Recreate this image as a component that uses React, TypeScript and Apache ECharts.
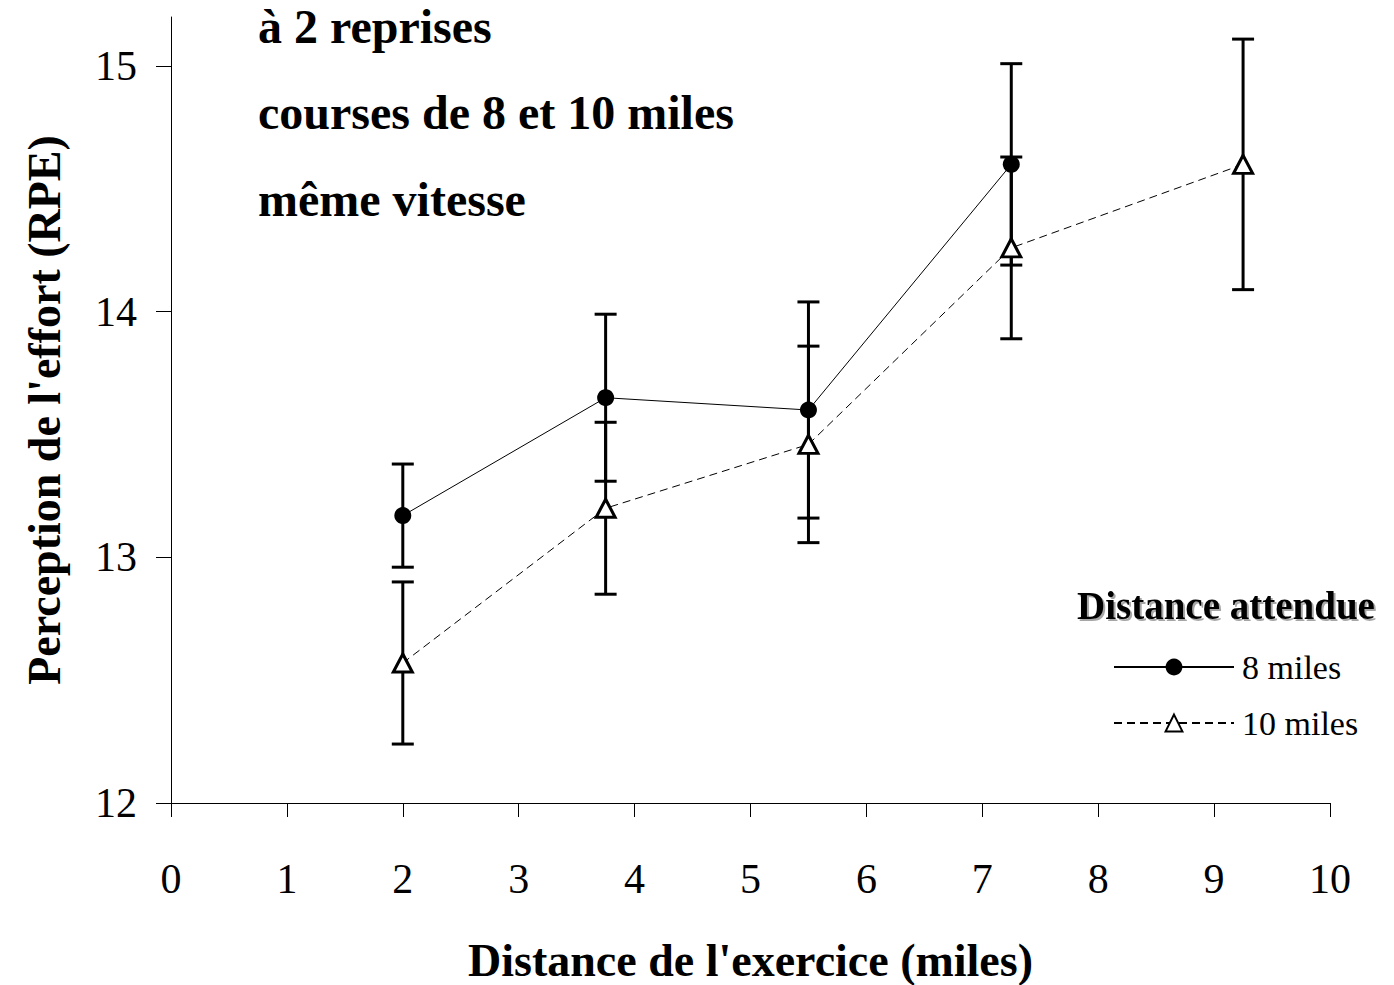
import React, { useEffect, useRef } from "react";
import * as echarts from "echarts";

const FONT = "'Liberation Serif', 'Times New Roman', serif";

const distances8 = [2, 3.75, 5.5, 7.25];
const rpe8 = [13.17, 13.65, 13.6, 14.6];
const sd8 = [0.21, 0.34, 0.44, 0.41];

const distances10 = [2, 3.75, 5.5, 7.25, 9.25];
const rpe10 = [12.57, 13.2, 13.46, 14.26, 14.6];
const sd10 = [0.33, 0.35, 0.4, 0.37, 0.51];

const yTicks = [12, 13, 14, 15];
const annotations = ["à 2 reprises", "courses de 8 et 10 miles", "même vitesse"];
const seriesNames = ["8 miles", "10 miles"];
const legendTitle = "Distance attendue";
const xTitle = "Distance de l'exercice (miles)";
const yTitle = "Perception de l'effort (RPE)";

function errorRender(params: any, api: any) {
  const x = api.value(0);
  const y = api.value(1);
  const e = api.value(2);
  const top = api.coord([x, y + e]);
  const bot = api.coord([x, y - e]);
  const hw = 11;
  const style = { stroke: "#000", lineWidth: 3 };
  return {
    type: "group",
    children: [
      { type: "line", shape: { x1: top[0], y1: top[1], x2: bot[0], y2: bot[1] }, style },
      { type: "line", shape: { x1: top[0] - hw, y1: top[1], x2: top[0] + hw, y2: top[1] }, style },
      { type: "line", shape: { x1: bot[0] - hw, y1: bot[1], x2: bot[0] + hw, y2: bot[1] }, style },
    ],
  };
}

export default function App() {
  const ref = useRef<HTMLDivElement>(null);
  useEffect(() => {
    if (!ref.current) return;
    const chart = echarts.init(ref.current, null, { renderer: "svg" });
    const d8 = distances8.map((x, i) => [x, rpe8[i]]);
    const d10 = distances10.map((x, i) => [x, rpe10[i]]);
    const e8 = distances8.map((x, i) => [x, rpe8[i], sd8[i]]);
    const e10 = distances10.map((x, i) => [x, rpe10[i], sd10[i]]);
    chart.setOption({
      animation: false,
      backgroundColor: "#fff",
      grid: { left: 171, right: 64, top: 17, bottom: 182, containLabel: false, outerBoundsMode: "none" },
      xAxis: {
        type: "value",
        min: 0,
        max: 10,
        interval: 1,
        name: xTitle,
        nameLocation: "middle",
        nameGap: 134,
        nameTextStyle: { fontFamily: FONT, fontSize: 46, fontWeight: "bold", color: "#000" },
        axisLine: { lineStyle: { color: "#000", width: 1 } },
        axisTick: { show: true, length: 14, lineStyle: { color: "#000", width: 1 } },
        axisLabel: { fontFamily: FONT, fontSize: 42, color: "#000", margin: 55 },
        splitLine: { show: false },
      },
      yAxis: {
        type: "value",
        min: 12,
        max: 15.2,
        interval: 1,
        name: yTitle,
        nameLocation: "middle",
        nameRotate: 90,
        nameGap: 104,
        nameTextStyle: { fontFamily: FONT, fontSize: 46, fontWeight: "bold", color: "#000" },
        axisLine: { show: true, lineStyle: { color: "#000", width: 1 } },
        axisTick: { show: true, length: 15, customValues: yTicks, lineStyle: { color: "#000", width: 1 } },
        axisLabel: { fontFamily: FONT, fontSize: 42, color: "#000", margin: 34, customValues: yTicks },
        splitLine: { show: false },
      },
      legend: {
        orient: "vertical",
        left: 1108,
        top: 645,
        itemWidth: 120,
        itemHeight: 21,
        itemGap: 22,
        data: seriesNames,
        textStyle: { fontFamily: FONT, fontSize: 34, color: "#000", lineHeight: 34, padding: [0, 0, 0, 3] },
      },
      graphic: [
        ...annotations.map((t, i) => ({
          type: "text",
          left: 258,
          top: 30 + i * 86.5 - 28,
          style: {
            text: t,
            font: `bold 48px ${FONT}`,
            fill: "#000",
          },
        })),
        {
          type: "text",
          x: 1077,
          y: 605,
          style: {
            text: legendTitle,
            font: `bold 39px ${FONT}`,
            fill: "#000",
            verticalAlign: "middle",
            textShadowColor: "rgba(0,0,0,0.35)",
            textShadowOffsetX: 2,
            textShadowOffsetY: 2,
            textShadowBlur: 1,
          },
        },
      ],
      series: [
        {
          name: "err8",
          type: "custom",
          renderItem: errorRender,
          data: e8,
          z: 1,
          silent: true,
          encode: { x: 0, y: 1 },
        },
        {
          name: "err10",
          type: "custom",
          renderItem: errorRender,
          data: e10,
          z: 1,
          silent: true,
          encode: { x: 0, y: 1 },
        },
        {
          name: seriesNames[0],
          type: "line",
          data: d8,
          z: 3,
          symbol: "circle",
          symbolSize: 17,
          lineStyle: { color: "#000", width: 1, type: "solid" },
          itemStyle: { color: "#000", borderColor: "#000", borderWidth: 0 },
        },
        {
          name: seriesNames[1],
          type: "line",
          data: d10,
          z: 3,
          symbol: "triangle",
          symbolSize: [19, 18],
          lineStyle: { color: "#000", width: 1, type: [8, 5] },
          itemStyle: { color: "#fff", borderColor: "#000", borderWidth: 3 },
        },
      ],
    });
    return () => chart.dispose();
  }, []);
  return (
    <div
      ref={ref}
      style={{ position: "fixed", left: 0, top: 0, width: 1394, height: 985, background: "#fff" }}
    />
  );
}
